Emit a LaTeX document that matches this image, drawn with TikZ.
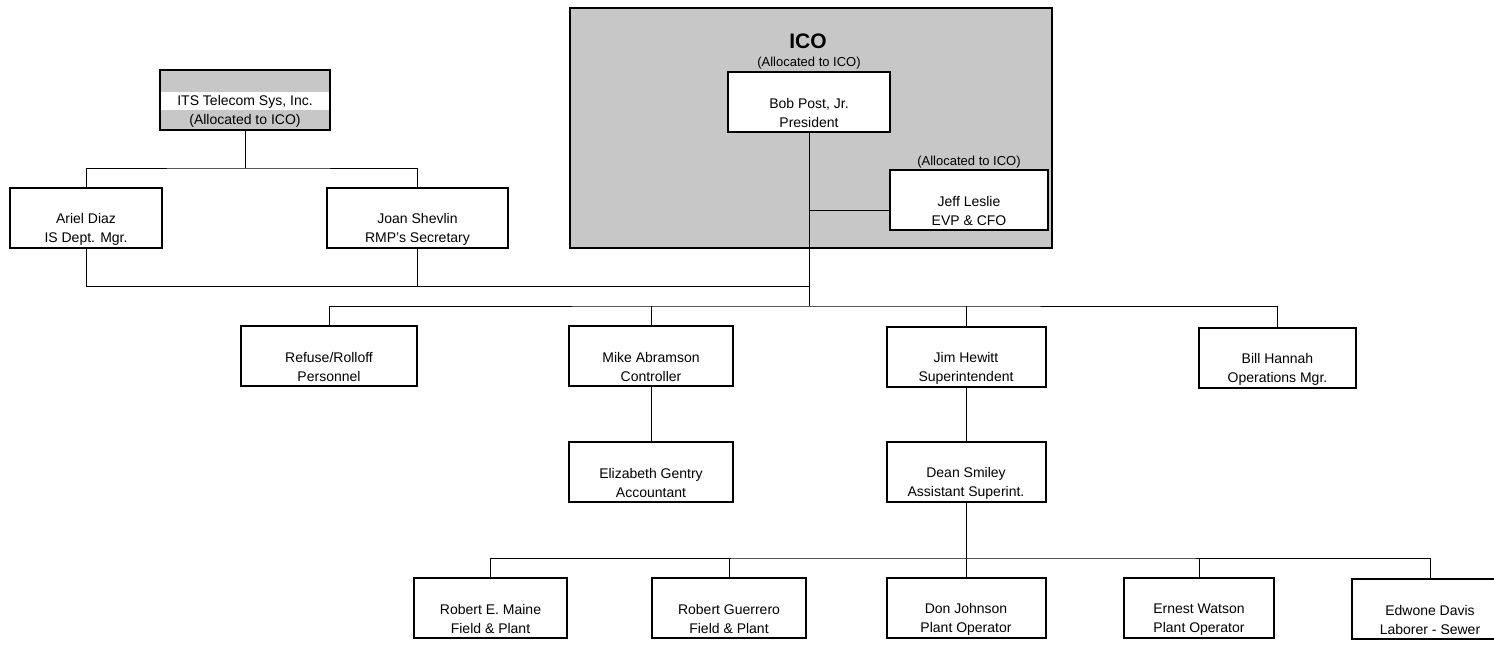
\documentclass[tikz,border=0pt]{standalone}
\usepackage{fontspec}
\setmainfont{Liberation Sans}
\usetikzlibrary{positioning}
\definecolor{stipple}{gray}{0.78}
\tikzset{
  person/.style={draw, line width=2pt, fill=white, minimum height=60pt,
    inner sep=0pt, align=center, font=\fontsize{14}{19}\selectfont},
  link/.style={line width=1pt},
  note/.style={font=\fontsize{13}{16}\selectfont, inner sep=0pt}
}
\begin{document}
\begin{tikzpicture}[x=1pt,y=-1pt]
\useasboundingbox (0,0) rectangle (1494,645);
\clip (0,0) rectangle (1494,645);

% ICO group
\node [draw, line width=2.5pt, fill=stipple, minimum width=482pt, minimum height=240pt] (ico) at (811,128) {};
\node [font=\fontsize{21}{24}\selectfont\bfseries] (icotitle) at (808,41) {ICO};
\node [person, minimum width=162pt] (bob) at (809,101.5) {\strut\\Bob Post, Jr.\\President};
\node [person, minimum width=158pt] (jeff) at (969,200) {\strut\\Jeff Leslie\\EVP \& CFO};
\node [note, above=1pt of bob] (bobnote) {(Allocated to ICO)};
\node [note, above=1pt of jeff] (jeffnote) {(Allocated to ICO)};

% ITS side
\node [person, minimum width=170pt, fill=stipple,
  path picture={\fill[white] ([yshift=-22pt]path picture bounding box.north west) rectangle ([yshift=-40pt]path picture bounding box.north east);}]
  (its) at (245,100) {\strut\\ITS Telecom Sys, Inc.\\(Allocated to ICO)};
\node [person, minimum width=152pt] (ariel) at (86,218) {\strut\\Ariel Diaz\\IS Dept. Mgr.};
\node [person, minimum width=181pt] (joan) at (417.5,218) {\strut\\Joan Shevlin\\RMP's Secretary};

% staff
\node [person, minimum width=176pt] (refuse) at (329,356) {\strut\\Refuse/Rolloff\\Personnel};
\node [person, minimum width=164pt] (mike) at (651,356) {\strut\\Mike Abramson\\Controller};
\node [person, minimum width=159pt] (jim) at (966,357) {\strut\\Jim Hewitt\\Superintendent};
\node [person, minimum width=157pt] (bill) at (1277.5,358) {\strut\\Bill Hannah\\Operations Mgr.};
\node [person, minimum width=164pt] (eliz) at (651,472) {\strut\\Elizabeth Gentry\\Accountant};
\node [person, minimum width=159pt] (dean) at (966,472) {\strut\\Dean Smiley\\Assistant Superint.};

% crew
\node [person, minimum width=153pt] (maine) at (490.5,608) {\strut\\Robert E. Maine\\Field \& Plant};
\node [person, minimum width=154pt] (guerrero) at (729,608) {\strut\\Robert Guerrero\\Field \& Plant};
\node [person, minimum width=159pt] (don) at (966,608) {\strut\\Don Johnson\\Plant Operator};
\node [person, minimum width=150pt] (ernest) at (1199,608) {\strut\\Ernest Watson\\Plant Operator};
\node [person, minimum width=156pt] (edwone) at (1430,609) {\strut\\Edwone Davis\\Laborer - Sewer};

% connectors
\coordinate (itsfork) at (245,168);
\coordinate (trunkjoin) at (bob.south |- 0,286);
\coordinate (staff) at (bob.south |- 0,306);
\coordinate (crew) at (dean.south |- 0,558);

\draw [link] (its.south) -- (itsfork);
\draw [link] (ariel.north) |- (itsfork) -| (joan.north);
\draw [link] (ariel.south) |- (trunkjoin);
\draw [link] (joan.south) -- (joan.south |- trunkjoin);
\draw [link] (bob.south) -- (staff);
\draw [link] ([yshift=-10pt]jeff.west) -- ([yshift=-10pt]jeff.west -| bob.south);

\draw [link] (refuse.north) |- (staff) -| (bill.north);
\draw [link] (mike.north) -- (mike.north |- staff);
\draw [link] (jim.north) -- (jim.north |- staff);
\draw [link] (mike.south) -- (eliz.north);
\draw [link] (jim.south) -- (dean.north);

\draw [link] (dean.south) -- (crew);
\draw [link] (maine.north) |- (crew) -| (edwone.north);
\draw [link] (guerrero.north) -- (guerrero.north |- crew);
\draw [link] (don.north) -- (don.north |- crew);
\draw [link] (ernest.north) -- (ernest.north |- crew);

\end{tikzpicture}
\end{document}
